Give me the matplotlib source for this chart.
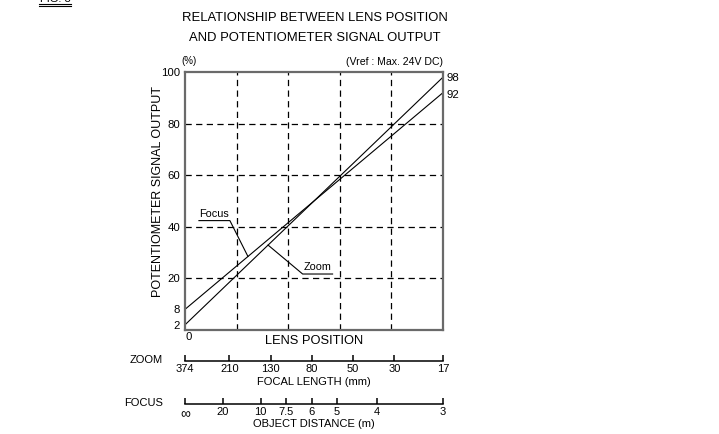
import numpy as np
import matplotlib
matplotlib.use("Agg")
import matplotlib.pyplot as plt
from matplotlib.lines import Line2D

plt.rcParams['font.family'] = ['Liberation Sans', 'DejaVu Sans']

# ---- data ----
lens_pos = [0, 100]
focus_out = [8, 92]
zoom_out = [2, 98]
y_ticks = [2, 8, 20, 40, 60, 80, 100]
grid_x = [20, 40, 60, 80]
grid_y = [20, 40, 60, 80]
zoom_labels = ['374', '210', '130', '80', '50', '30', '17']
zoom_pos = [0, 17.2, 33.2, 49.1, 65.0, 81.2, 100]
focus_labels = ['∞', '20', '10', '7.5', '6', '5', '4', '3']
focus_pos = [0, 14.6, 29.3, 39.1, 49.1, 58.9, 74.3, 100]

W, H = 719, 434
fig = plt.figure(figsize=(W / 100, H / 100), dpi=100)

def fx(x):
    return x / W

def fy(y):
    return 1 - y / H

ax = fig.add_axes([fx(185), fy(330), 258 / W, 258 / H])
ax.set_xlim(0, 100)
ax.set_ylim(0, 100)

dash = (0, (5, 3.5))
for g in grid_x:
    ax.axvline(g, color='black', lw=0.9, linestyle=dash)
for g in grid_y:
    ax.axhline(g, color='black', lw=0.9, linestyle=dash)

ax.plot(lens_pos, focus_out, color='black', lw=0.8)
ax.plot(lens_pos, zoom_out, color='black', lw=0.8)

for s in ax.spines.values():
    s.set_color('#6a6a6a')
    s.set_linewidth(1.6)

ax.set_yticks(y_ticks)
ax.set_yticklabels([str(v) for v in y_ticks])
ax.set_xticks([])
ax.tick_params(axis='y', length=0, pad=3.5, labelsize=8.2)
ax.text(0.3, -2.8, '0', ha='left', va='center', fontsize=8.2)

# end labels
ax.text(101.3, focus_out[1] - 1.0, str(focus_out[1]), fontsize=8.2, va='center', ha='left')
ax.text(101.3, zoom_out[1] - 0.5, str(zoom_out[1]), fontsize=8.2, va='center', ha='left')

# annotations
fx0, fx1, fyl, fxe = 5.4, 17.4, 42.4, 24.4
ax.plot([fx0, fx1, fxe], [fyl, fyl, np.interp(fxe, lens_pos, focus_out)], color='black', lw=0.8)
ax.text((fx0 + fx1) / 2, fyl + 0.8, 'Focus', ha='center', va='bottom', fontsize=7.8)
zx0, zx1, zyl, zxe = 45.6, 57.2, 21.7, 32.2
ax.plot([zx1, zx0, zxe], [zyl, zyl, np.interp(zxe, lens_pos, zoom_out)], color='black', lw=0.8)
ax.text((zx0 + zx1) / 2, zyl + 0.8, 'Zoom', ha='center', va='bottom', fontsize=7.8)

ax.text(100, 101.8, '(Vref : Max. 24V DC)', ha='right', va='bottom', fontsize=7.6)
ax.text(-1.5, 102.5, '(%)', ha='left', va='bottom', fontsize=7)

ax.set_ylabel('POTENTIOMETER SIGNAL OUTPUT', fontsize=9)
ax.yaxis.set_label_coords(-0.08, 0.535)
ax.set_xlabel('LENS POSITION', fontsize=9.3, labelpad=3.5)

fig.text(fx(315), fy(18), 'RELATIONSHIP BETWEEN LENS POSITION', ha='center', va='center', fontsize=9.4)
fig.text(fx(315), fy(38), 'AND POTENTIOMETER SIGNAL OUTPUT', ha='center', va='center', fontsize=9.4)

def scale_axis(ypix, positions, labels, name, title, title_y):
    a = fig.add_axes([fx(185), fy(ypix), 258 / W, 0.0001])
    a.set_xlim(0, 100)
    a.set_ylim(0, 1)
    for k in ['top', 'left', 'right']:
        a.spines[k].set_visible(False)
    a.spines['bottom'].set_linewidth(1.1)
    a.set_yticks([])
    a.set_xticks(positions)
    a.set_xticklabels(labels)
    a.tick_params(axis='x', direction='in', length=4, width=1.1, pad=2.5, labelsize=8)
    fig.text(fx(314), fy(title_y), title, ha='center', va='center', fontsize=8)
    fig.text(fx(163), fy(ypix - 1), name, ha='right', va='center', fontsize=8)
    return a

scale_axis(361, zoom_pos, zoom_labels, 'ZOOM', 'FOCAL LENGTH (mm)', 382)
fa = scale_axis(404, focus_pos, focus_labels, 'FOCUS', 'OBJECT DISTANCE (m)', 424)
inf_lbl = fa.get_xticklabels()[0]
inf_lbl.set_fontsize(10)

# figure caption (cut off at the top edge, as in the reference)
fig.text(fx(55), fy(2.3), 'FIG. 8', ha='center', va='baseline', fontsize=8)
fig.add_artist(Line2D([fx(39), fx(71)], [fy(3.5), fy(3.5)], color='black', lw=0.8))
fig.add_artist(Line2D([fx(39), fx(71)], [fy(5.8), fy(5.8)], color='black', lw=0.8))

fig.savefig('out.png', dpi=100)
